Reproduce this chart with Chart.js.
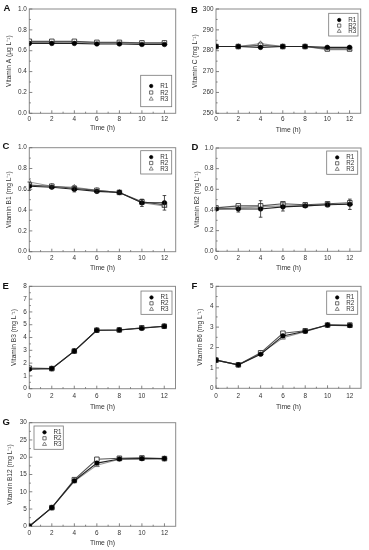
<!DOCTYPE html>
<html><head><meta charset="utf-8">
<script src="https://cdn.jsdelivr.net/npm/chart.js@4.4.0/dist/chart.umd.min.js"></script>
<style>
html,body{margin:0;padding:0;background:#fff;width:369px;height:550px;overflow:hidden;position:relative}
canvas{position:absolute}
.lab{position:absolute;font:bold 9.5px "Liberation Sans",Arial,sans-serif;color:#111;line-height:1}
</style></head><body>
<script>
// ---------- DATA ----------
const time = [0, 2, 4, 6, 8, 10, 12];
const xTickLabels = ['0', '2', '4', '6', '8', '10', '12'];
const seriesNames = ['R1', 'R2', 'R3'];

// A: Vitamin A (µg/L)
const vitA_R1 = [0.67, 0.67, 0.67, 0.665, 0.665, 0.66, 0.66];
const vitA_R2 = [0.69, 0.69, 0.69, 0.68, 0.68, 0.675, 0.675];
const vitA_R3 = [0.68, 0.68, 0.685, 0.675, 0.675, 0.67, 0.67];
const yTicksA = [0, 0.2, 0.4, 0.6, 0.8, 1.0];
const yLabelsA = ['0.0', '0.2', '0.4', '0.6', '0.8', '1.0'];

// B: Vitamin C (mg/L)
const vitC_R1 = [282, 282, 281.6, 282, 282, 281.6, 281.6];
const vitC_R2 = [282, 282, 282.6, 282, 282, 280.9, 280.9];
const vitC_R3 = [282, 282, 283.4, 282, 282, 280.5, 280.5];
const yTicksB = [250, 260, 270, 280, 290, 300];
const yLabelsB = ['250', '260', '270', '280', '290', '300'];

// C: Vitamin B1 (mg/L)
const vitB1_R1 = [0.63, 0.62, 0.60, 0.58, 0.57, 0.47, 0.47];
const vitB1_R2 = [0.64, 0.63, 0.61, 0.59, 0.57, 0.48, 0.45];
const vitB1_R3 = [0.67, 0.63, 0.62, 0.59, 0.57, 0.47, 0.44];
const vitB1_err = [0.04, 0.01, 0.025, 0.01, 0.005, 0.035, 0.07];
const yTicksC = [0, 0.2, 0.4, 0.6, 0.8, 1.0];
const yLabelsC = ['0.0', '0.2', '0.4', '0.6', '0.8', '1.0'];

// D: Vitamin B2 (mg/L)
const vitB2_R1 = [0.41, 0.41, 0.41, 0.43, 0.44, 0.45, 0.455];
const vitB2_R2 = [0.42, 0.44, 0.44, 0.46, 0.45, 0.46, 0.47];
const vitB2_R3 = [0.41, 0.42, 0.43, 0.44, 0.44, 0.45, 0.46];
const vitB2_err = [0.01, 0.03, 0.08, 0.04, 0.01, 0.02, 0.05];
const yTicksD = [0, 0.2, 0.4, 0.6, 0.8, 1.0];
const yLabelsD = ['0.0', '0.2', '0.4', '0.6', '0.8', '1.0'];

// E: Vitamin B3 (mg/L)
const vitB3_R1 = [1.52, 1.57, 2.94, 4.57, 4.59, 4.72, 4.88];
const vitB3_R2 = [1.60, 1.57, 2.94, 4.57, 4.59, 4.76, 4.88];
const vitB3_R3 = [1.62, 1.57, 2.96, 4.57, 4.60, 4.74, 4.86];
const yTicksE = [0, 1, 2, 3, 4, 5, 6, 7, 8];
const yLabelsE = ['0', '1', '2', '3', '4', '5', '6', '7', '8'];

// F: Vitamin B6 (mg/L)
const vitB6_R1 = [1.38, 1.15, 1.67, 2.57, 2.80, 3.10, 3.08];
const vitB6_R2 = [1.38, 1.15, 1.74, 2.70, 2.82, 3.10, 3.10];
const vitB6_R3 = [1.38, 1.15, 1.70, 2.48, 2.78, 3.10, 3.06];
const yTicksF = [0, 1, 2, 3, 4, 5];
const yLabelsF = ['0', '1', '2', '3', '4', '5'];

// G: Vitamin B12 (mg/L)
const vitB12_R1 = [0, 5.4, 13.2, 18.3, 19.5, 19.6, 19.6];
const vitB12_R2 = [0, 5.4, 13.5, 19.4, 19.7, 19.8, 19.6];
const vitB12_R3 = [0, 5.4, 13.0, 17.7, 19.4, 19.5, 19.6];
const yTicksG = [0, 5, 10, 15, 20, 25, 30];
const yLabelsG = ['0', '5', '10', '15', '20', '25', '30'];

// ---------- STYLE ----------
const FONT = '"Liberation Sans", Arial, sans-serif';
const TXT = '#333';
const FRAME = '#8a8a8a';
const styles = [
  {borderColor:'#222', borderWidth:1.1, pointStyle:'circle', pointRadius:2.3, pointBackgroundColor:'#000', pointBorderColor:'#000', pointBorderWidth:0.6},
  {borderColor:'#555', borderWidth:1.1, pointStyle:'rect', pointRadius:3.2, pointBackgroundColor:'#fff', pointBorderColor:'#333', pointBorderWidth:0.9},
  {borderColor:'#999', borderWidth:1.1, pointStyle:'triangle', pointRadius:2.8, pointBackgroundColor:'#fff', pointBorderColor:'#555', pointBorderWidth:0.8}
];

const framePlugin = {
  id:'frame',
  beforeDatasetsDraw(chart){
    const {ctx, chartArea:a, scales:{x, y}} = chart;
    ctx.save();
    ctx.strokeStyle = FRAME; ctx.lineWidth = 1;
    ctx.strokeRect(a.left, a.top, a.right - a.left, a.bottom - a.top);
    ctx.strokeStyle = '#666'; ctx.lineWidth = 0.8;
    ctx.beginPath();
    const xt = x.ticks.map(t => t.value);
    for (let i = 0; i < xt.length; i++) {
      const px = x.getPixelForValue(xt[i]);
      ctx.moveTo(px, a.bottom); ctx.lineTo(px, a.bottom - 3);
      if (i < xt.length - 1) {
        const pm = x.getPixelForValue((xt[i] + xt[i+1]) / 2);
        ctx.moveTo(pm, a.bottom); ctx.lineTo(pm, a.bottom - 1.6);
      }
    }
    const yt = y.ticks.map(t => t.value);
    for (let i = 0; i < yt.length; i++) {
      const py = y.getPixelForValue(yt[i]);
      ctx.moveTo(a.left, py); ctx.lineTo(a.left + 3, py);
      if (i < yt.length - 1) {
        const pm = y.getPixelForValue((yt[i] + yt[i+1]) / 2);
        ctx.moveTo(a.left, pm); ctx.lineTo(a.left + 1.6, pm);
      }
    }
    ctx.stroke();
    ctx.restore();
  }
};

const errPlugin = {
  id:'errbars',
  afterDatasetsDraw(chart){
    const {ctx, scales:{x, y}} = chart;
    ctx.save();
    ctx.strokeStyle = '#222'; ctx.lineWidth = 0.8;
    chart.data.datasets.forEach(ds => {
      if (!ds.err) return;
      ds.data.forEach((p, j) => {
        const e = ds.err[j];
        if (!e) return;
        const px = x.getPixelForValue(p.x);
        const y1 = y.getPixelForValue(p.y - e), y2 = y.getPixelForValue(p.y + e);
        ctx.beginPath();
        ctx.moveTo(px, y1); ctx.lineTo(px, y2);
        ctx.moveTo(px - 1.8, y1); ctx.lineTo(px + 1.8, y1);
        ctx.moveTo(px - 1.8, y2); ctx.lineTo(px + 1.8, y2);
        ctx.stroke();
      });
    });
    ctx.restore();
  }
};

const legendPlugin = {
  id:'boxLegend',
  afterDraw(chart, args, o){
    const {ctx, chartArea:a} = chart;
    let left = o.anchor === 'left' ? a.left + o.dx : a.right - o.dx;
    let top = o.vanchor === 'bottom' ? a.bottom - o.dy : a.top + o.dy;
    ctx.save();
    ctx.fillStyle = '#fff';
    ctx.fillRect(left, top, o.w, o.h);
    ctx.strokeStyle = '#777'; ctx.lineWidth = 0.8;
    ctx.strokeRect(left, top, o.w, o.h);
    chart.data.datasets.forEach((ds, i) => {
      const cy = top + o.first + i * o.step;
      const cx = left + 10.5;
      ctx.fillStyle = ds.pointBackgroundColor;
      ctx.strokeStyle = ds.pointBorderColor;
      ctx.lineWidth = 0.7;
      Chart.helpers.drawPoint(ctx, {pointStyle: ds.pointStyle, rotation:0, radius: ds.pointStyle === 'circle' ? 1.7 : 2.3, borderWidth:0.7}, cx, cy);
      ctx.fillStyle = TXT;
      ctx.font = '6.3px ' + FONT;
      ctx.textBaseline = 'middle';
      ctx.textAlign = 'left';
      ctx.fillText(ds.label, left + 19.5, cy + 0.3);
    });
    ctx.restore();
  }
};

function panel(p){
  const c = document.createElement('canvas');
  c.width = p.w; c.height = p.h;
  c.style.left = p.x0 + 'px'; c.style.top = p.y0 + 'px';
  c.style.width = p.w + 'px'; c.style.height = p.h + 'px';
  document.body.appendChild(c);
  const datasets = p.series.map((vals, i) => Object.assign({
    label: seriesNames[i],
    data: time.map((t, j) => ({x:t, y:vals[j]})),
    err: p.errs && i === 0 ? p.errs : null,
    fill:false, tension:0
  }, styles[i]));
  new Chart(c, {
    type:'line',
    data:{datasets},
    options:{
      responsive:false, animation:false, devicePixelRatio:1,
      layout:{padding:{left:0, top:p.t, right:p.w - p.r, bottom:0}},
      plugins:{legend:{display:false}, tooltip:{enabled:false}, boxLegend:p.legend},
      scales:{
        x:{
          type:'linear', min:0, max:13,
          afterFit: s => { s.height = p.h - p.b; },
          afterBuildTicks: s => { s.ticks = time.map(v => ({value:v})); },
          ticks:{font:{family:FONT, size:6.4}, color:TXT, padding:p.xpad, maxRotation:0, autoSkip:false, callback:(v, i) => xTickLabels[i]},
          grid:{display:false, drawTicks:false}, border:{display:false},
          title:{display:true, text:'Time (h)', color:TXT, font:{family:FONT, size:6.8}, padding:{top:0, bottom:p.h - p.titleY - 4.1}}
        },
        y:{
          type:'linear', min:p.yTicks[0], max:p.yTicks[p.yTicks.length - 1],
          afterFit: s => { s.width = p.l; },
          afterBuildTicks: s => { s.ticks = p.yTicks.map(v => ({value:v})); },
          ticks:{font:{family:FONT, size:6.4}, color:TXT, padding:2.5, autoSkip:false, callback:(v, i) => p.yLabels[i]},
          grid:{display:false, drawTicks:false}, border:{display:false},
          title:{display:true, text:p.ytitle, color:TXT, font:{family:FONT, size:6.6}, padding:{top:p.ytx - 4, bottom:0}}
        }
      }
    },
    plugins:[framePlugin, errPlugin, legendPlugin]
  });
}

const legTR = (dx, dy) => ({anchor:'right', vanchor:'top', dx, dy, w:31, h:23.3, first:6.4, step:5.9});

panel({x0:0, y0:0, w:185, h:140, l:29.3, r:175.7, t:9, b:113.3, xpad:2.2, titleY:128.3, ytx:9.5,
  series:[vitA_R1, vitA_R2, vitA_R3], yTicks:yTicksA, yLabels:yLabelsA, ytitle:'Vitamin A (μg L⁻¹)',
  legend:{anchor:'right', vanchor:'bottom', dx:35, dy:38, w:31, h:31.4, first:10.7, step:6.5}});
panel({x0:185, y0:0, w:184, h:140, l:31, r:175.7, t:9, b:113.3, xpad:2.2, titleY:129.7, ytx:10.3,
  series:[vitC_R1, vitC_R2, vitC_R3], yTicks:yTicksB, yLabels:yLabelsB, ytitle:'Vitamin C (mg L⁻¹)',
  legend:{anchor:'right', vanchor:'top', dx:32, dy:4.3, w:29.3, h:22.7, first:6.7, step:5.6}});
panel({x0:0, y0:140, w:185, h:140, l:29.3, r:175.7, t:7.7, b:111.7, xpad:2.8, titleY:127.7, ytx:9.5,
  series:[vitB1_R1, vitB1_R2, vitB1_R3], errs:vitB1_err, yTicks:yTicksC, yLabels:yLabelsC, ytitle:'Vitamin B1 (mg L⁻¹)',
  legend:legTR(35, 3)});
panel({x0:185, y0:140, w:184, h:140, l:31, r:176, t:8, b:111.3, xpad:3.2, titleY:127.7, ytx:12,
  series:[vitB2_R1, vitB2_R2, vitB2_R3], errs:vitB2_err, yTicks:yTicksD, yLabels:yLabelsD, ytitle:'Vitamin B2 (mg L⁻¹)',
  legend:legTR(34.3, 3)});
panel({x0:0, y0:280, w:185, h:140, l:29.3, r:175.5, t:5.3, b:108.7, xpad:3.5, titleY:126.7, ytx:14,
  series:[vitB3_R1, vitB3_R2, vitB3_R3], yTicks:yTicksE, yLabels:yLabelsE, ytitle:'Vitamin B3 (mg L⁻¹)',
  legend:legTR(34.5, 4.7)});
panel({x0:185, y0:280, w:184, h:140, l:31, r:176, t:5.3, b:108.3, xpad:3.8, titleY:126.7, ytx:15.7,
  series:[vitB6_R1, vitB6_R2, vitB6_R3], yTicks:yTicksF, yLabels:yLabelsF, ytitle:'Vitamin B6 (mg L⁻¹)',
  legend:legTR(34.3, 4.7)});
panel({x0:0, y0:415, w:185, h:135, l:29.3, r:175.7, t:7.7, b:111.3, xpad:3.2, titleY:127.7, ytx:10,
  series:[vitB12_R1, vitB12_R2, vitB12_R3], yTicks:yTicksG, yLabels:yLabelsG, ytitle:'Vitamin B12 (mg L⁻¹)',
  legend:{anchor:'left', vanchor:'top', dx:4.7, dy:3.3, w:29.3, h:23.3, first:6.3, step:6}});

// panel letters
[['A', 3.5, 3.3], ['B', 191, 4.8], ['C', 2.5, 141.2], ['D', 191.5, 142.3], ['E', 2.5, 281.3], ['F', 191.5, 281.3], ['G', 2.5, 417.3]].forEach(([t, x, y]) => {
  const d = document.createElement('div');
  d.className = 'lab'; d.textContent = t;
  d.style.left = x + 'px'; d.style.top = y + 'px';
  document.body.appendChild(d);
});
</script>
</body></html>
